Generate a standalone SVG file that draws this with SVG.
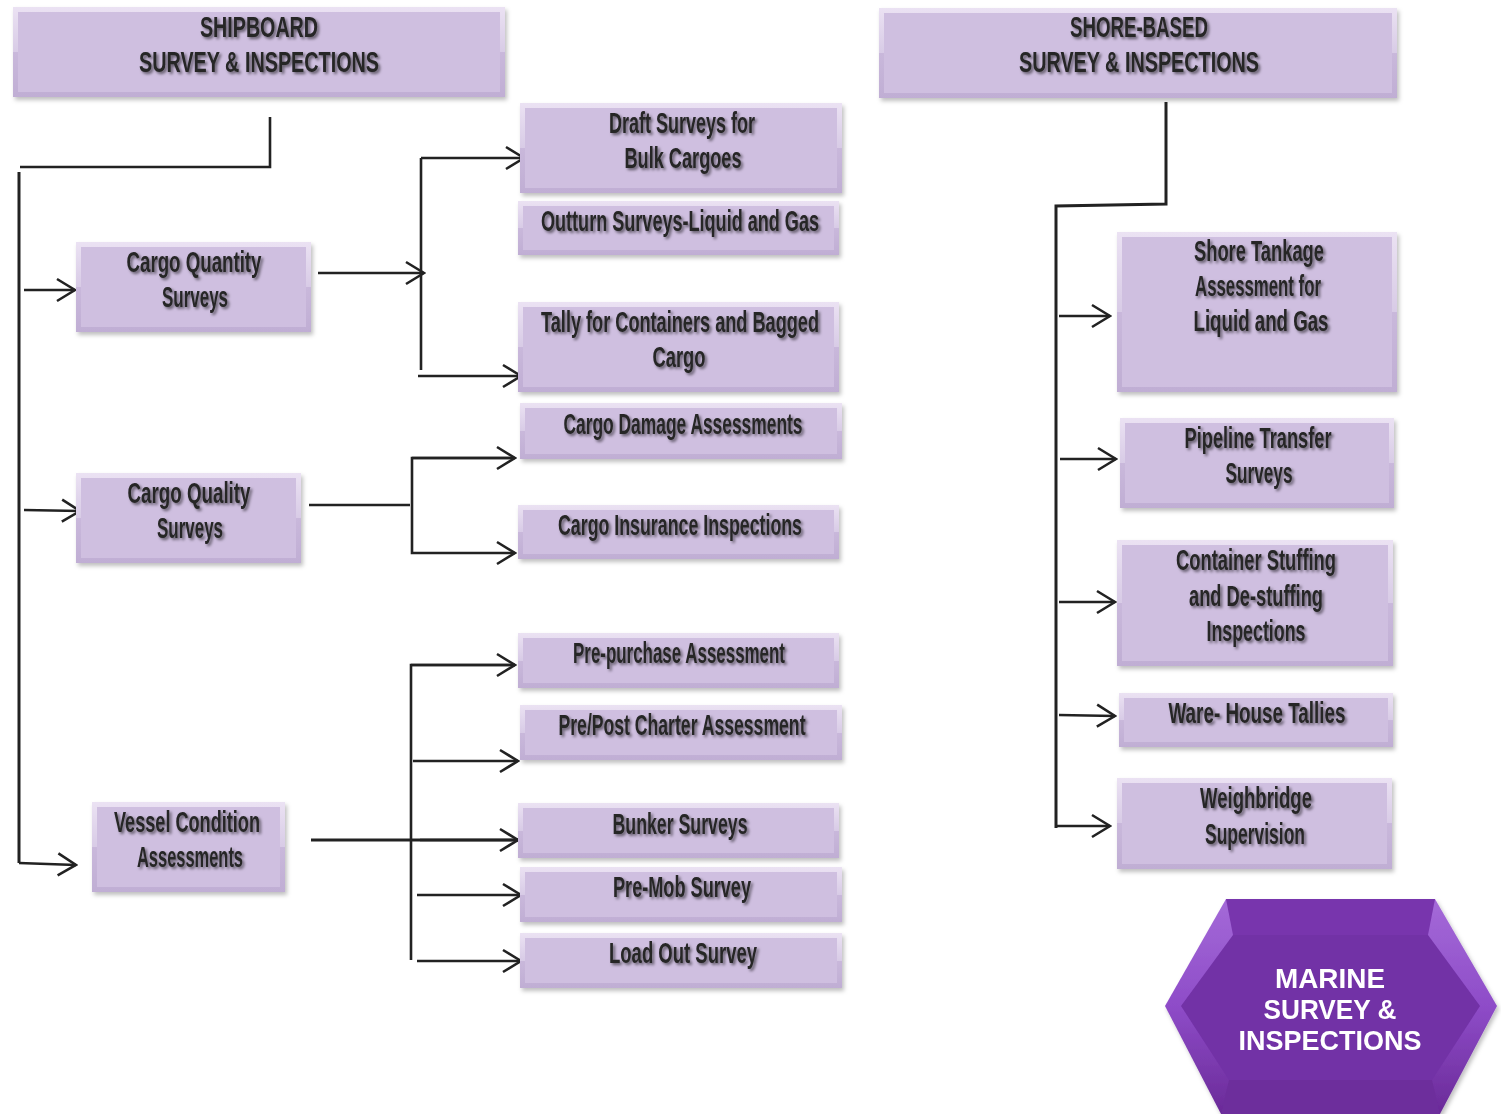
<svg xmlns="http://www.w3.org/2000/svg" width="1501" height="1114" viewBox="0 0 1501 1114">
<style>
.outer{fill:url(#bev)}
.inner{fill:#cfbfe0}
.lbl{font-family:"Liberation Sans Narrow","Liberation Sans",Arial,sans-serif;font-weight:bold;font-size:29px;fill:#262626;text-anchor:middle;filter:url(#tsh)}
.hex{font-family:"Liberation Sans","DejaVu Sans",Arial,sans-serif;font-weight:bold;font-size:28px;fill:#ffffff;text-anchor:middle}
.ln{fill:none;stroke:#222;stroke-width:2.6}
.ar{fill:none;stroke:#222;stroke-width:2.6;marker-end:url(#ah)}
</style>
<defs>
<linearGradient id="bev" x1="0" y1="0" x2="0" y2="1">
<stop offset="0" stop-color="#ebe2f3"/>
<stop offset="0.5" stop-color="#d8cbe6"/>
<stop offset="0.5" stop-color="#c9b8db"/>
<stop offset="1" stop-color="#c0aed4"/>
</linearGradient>
<linearGradient id="hexside" x1="0" y1="0" x2="0" y2="1">
<stop offset="0" stop-color="#a46ad8"/>
<stop offset="0.5" stop-color="#8e4cc8"/>
<stop offset="1" stop-color="#6a2a98"/>
</linearGradient>
<filter id="bsh" x="-5%" y="-10%" width="112%" height="125%">
<feDropShadow dx="2" dy="3" stdDeviation="2" flood-color="#000" flood-opacity="0.25"/>
</filter>
<filter id="tsh" x="-10%" y="-30%" width="120%" height="160%">
<feDropShadow dx="2" dy="2" stdDeviation="1.6" flood-color="#000" flood-opacity="0.55"/>
</filter>
<marker id="ah" markerUnits="userSpaceOnUse" markerWidth="22" markerHeight="26" viewBox="0 0 22 26" refX="20" refY="13" orient="auto">
<path d="M2,2 L20,13 L2,24" fill="none" stroke="#222" stroke-width="2.6"/>
</marker>
</defs>
<rect width="1501" height="1114" fill="#ffffff"/>

<g id="connectors">
<polyline class="ln" points="270,117 270,167 20,167"/>
<line class="ln" x1="19" y1="172" x2="19" y2="863" style="stroke-width:3"/>
<polyline class="ar" points="19,863 76,865"/>
<line class="ar" x1="24" y1="290" x2="75" y2="290"/>
<line class="ar" x1="24" y1="510" x2="80" y2="511"/>
<line class="ar" x1="318" y1="273" x2="424" y2="273"/>
<line class="ln" x1="421" y1="158" x2="421" y2="370"/>
<line class="ar" x1="421" y1="158" x2="524" y2="158"/>
<line class="ar" x1="418" y1="376" x2="521" y2="376"/>
<line class="ln" x1="309" y1="505" x2="410" y2="505"/>
<polyline class="ar" points="514,458 412,458 412,553 515,553"/>
<line class="ar" x1="412" y1="458" x2="515" y2="458"/>
<line class="ln" x1="311" y1="840" x2="556" y2="840" style="stroke-width:3.2"/>
<line class="ar" x1="420" y1="840" x2="518" y2="840"/>
<polyline class="ln" points="515,665 411,665 411,960"/>
<line class="ar" x1="411" y1="665" x2="515" y2="665"/>
<line class="ar" x1="413" y1="761" x2="518" y2="761"/>
<line class="ar" x1="417" y1="895" x2="521" y2="895"/>
<line class="ar" x1="417" y1="961" x2="521" y2="961"/>
<polyline class="ln" points="1166,102 1166,204 1056,206 1056,828" style="stroke-width:3"/>
<line class="ar" x1="1059" y1="316" x2="1110" y2="316"/>
<line class="ar" x1="1060" y1="459" x2="1116" y2="459"/>
<line class="ar" x1="1059" y1="602" x2="1115" y2="602"/>
<line class="ar" x1="1059" y1="715" x2="1115" y2="716"/>
<line class="ar" x1="1056" y1="826" x2="1110" y2="826"/>
</g>

<g id="n-shipboard" filter="url(#bsh)"><rect class="outer" x="13" y="7" width="492" height="90"/><rect class="inner" x="18" y="12" width="482" height="80"/>
<text class="lbl" x="259" y="37" textLength="118" lengthAdjust="spacingAndGlyphs">SHIPBOARD</text>
<text class="lbl" x="259" y="72" textLength="240" lengthAdjust="spacingAndGlyphs">SURVEY &amp; INSPECTIONS</text></g>

<g id="n-shore" filter="url(#bsh)"><rect class="outer" x="879" y="8" width="518" height="90"/><rect class="inner" x="884" y="13" width="508" height="80"/>
<text class="lbl" x="1139" y="37" textLength="138" lengthAdjust="spacingAndGlyphs">SHORE-BASED</text>
<text class="lbl" x="1139" y="72" textLength="240" lengthAdjust="spacingAndGlyphs">SURVEY &amp; INSPECTIONS</text></g>

<g id="n-draft" filter="url(#bsh)"><rect class="outer" x="520" y="103" width="322" height="90"/><rect class="inner" x="525" y="108" width="312" height="80"/>
<text class="lbl" x="682" y="133" textLength="146" lengthAdjust="spacingAndGlyphs">Draft Surveys for</text>
<text class="lbl" x="683" y="168" textLength="117" lengthAdjust="spacingAndGlyphs">Bulk Cargoes</text></g>

<g id="n-outturn" filter="url(#bsh)"><rect class="outer" x="518" y="201" width="321" height="54"/><rect class="inner" x="523" y="206" width="311" height="44"/>
<text class="lbl" x="680" y="231" textLength="278" lengthAdjust="spacingAndGlyphs">Outturn Surveys-Liquid and  Gas</text></g>

<g id="n-cargo-quantity" filter="url(#bsh)"><rect class="outer" x="76" y="242" width="235" height="90"/><rect class="inner" x="81" y="247" width="225" height="80"/>
<text class="lbl" x="194" y="272" textLength="135" lengthAdjust="spacingAndGlyphs">Cargo Quantity</text>
<text class="lbl" x="195" y="307" textLength="66" lengthAdjust="spacingAndGlyphs">Surveys</text></g>

<g id="n-tally" filter="url(#bsh)"><rect class="outer" x="518" y="302" width="321" height="90"/><rect class="inner" x="523" y="307" width="311" height="80"/>
<text class="lbl" x="680" y="332" textLength="278" lengthAdjust="spacingAndGlyphs">Tally for Containers and Bagged</text>
<text class="lbl" x="679" y="367" textLength="53" lengthAdjust="spacingAndGlyphs">Cargo</text></g>

<g id="n-damage" filter="url(#bsh)"><rect class="outer" x="520" y="403" width="322" height="56"/><rect class="inner" x="525" y="408" width="312" height="46"/>
<text class="lbl" x="683" y="434" textLength="239" lengthAdjust="spacingAndGlyphs">Cargo Damage Assessments</text></g>

<g id="n-cargo-quality" filter="url(#bsh)"><rect class="outer" x="76" y="473" width="225" height="90"/><rect class="inner" x="81" y="478" width="215" height="80"/>
<text class="lbl" x="189" y="503" textLength="123" lengthAdjust="spacingAndGlyphs">Cargo Quality</text>
<text class="lbl" x="190" y="538" textLength="66" lengthAdjust="spacingAndGlyphs">Surveys</text></g>

<g id="n-insurance" filter="url(#bsh)"><rect class="outer" x="518" y="505" width="321" height="54"/><rect class="inner" x="523" y="510" width="311" height="44"/>
<text class="lbl" x="680" y="535" textLength="244" lengthAdjust="spacingAndGlyphs">Cargo Insurance Inspections</text></g>

<g id="n-prepurchase" filter="url(#bsh)"><rect class="outer" x="518" y="633" width="321" height="55"/><rect class="inner" x="523" y="638" width="311" height="45"/>
<text class="lbl" x="679" y="663" textLength="212" lengthAdjust="spacingAndGlyphs">Pre-purchase Assessment</text></g>

<g id="n-prepost" filter="url(#bsh)"><rect class="outer" x="520" y="705" width="322" height="55"/><rect class="inner" x="525" y="710" width="312" height="45"/>
<text class="lbl" x="682" y="735" textLength="247" lengthAdjust="spacingAndGlyphs">Pre/Post Charter Assessment</text></g>

<g id="n-vessel" filter="url(#bsh)"><rect class="outer" x="92" y="802" width="193" height="90"/><rect class="inner" x="97" y="807" width="183" height="80"/>
<text class="lbl" x="187" y="832" textLength="146" lengthAdjust="spacingAndGlyphs">Vessel Condition</text>
<text class="lbl" x="190" y="867" textLength="106" lengthAdjust="spacingAndGlyphs">Assessments</text></g>

<g id="n-bunker" filter="url(#bsh)"><rect class="outer" x="518" y="803" width="321" height="55"/><rect class="inner" x="523" y="808" width="311" height="45"/>
<text class="lbl" x="680" y="834" textLength="135" lengthAdjust="spacingAndGlyphs">Bunker Surveys</text></g>

<g id="n-premob" filter="url(#bsh)"><rect class="outer" x="520" y="867" width="322" height="55"/><rect class="inner" x="525" y="872" width="312" height="45"/>
<text class="lbl" x="682" y="897" textLength="138" lengthAdjust="spacingAndGlyphs">Pre-Mob Survey</text></g>

<g id="n-loadout" filter="url(#bsh)"><rect class="outer" x="520" y="933" width="322" height="55"/><rect class="inner" x="525" y="938" width="312" height="45"/>
<text class="lbl" x="683" y="963" textLength="148" lengthAdjust="spacingAndGlyphs">Load Out Survey</text></g>

<g id="n-tankage" filter="url(#bsh)"><rect class="outer" x="1117" y="232" width="280" height="160"/><rect class="inner" x="1122" y="237" width="270" height="150"/>
<text class="lbl" x="1259" y="261" textLength="130" lengthAdjust="spacingAndGlyphs">Shore Tankage</text>
<text class="lbl" x="1258" y="296" textLength="126" lengthAdjust="spacingAndGlyphs">Assessment for</text>
<text class="lbl" x="1261" y="331" textLength="135" lengthAdjust="spacingAndGlyphs">Liquid and Gas</text></g>

<g id="n-pipeline" filter="url(#bsh)"><rect class="outer" x="1120" y="418" width="274" height="90"/><rect class="inner" x="1125" y="423" width="264" height="80"/>
<text class="lbl" x="1258" y="448" textLength="147" lengthAdjust="spacingAndGlyphs">Pipeline Transfer</text>
<text class="lbl" x="1259" y="483" textLength="67" lengthAdjust="spacingAndGlyphs">Surveys</text></g>

<g id="n-container" filter="url(#bsh)"><rect class="outer" x="1117" y="540" width="276" height="126"/><rect class="inner" x="1122" y="545" width="266" height="116"/>
<text class="lbl" x="1256" y="570" textLength="160" lengthAdjust="spacingAndGlyphs">Container Stuffing</text>
<text class="lbl" x="1256" y="606" textLength="134" lengthAdjust="spacingAndGlyphs">and De-stuffing</text>
<text class="lbl" x="1256" y="641" textLength="99" lengthAdjust="spacingAndGlyphs">Inspections</text></g>

<g id="n-warehouse" filter="url(#bsh)"><rect class="outer" x="1119" y="693" width="274" height="54"/><rect class="inner" x="1124" y="698" width="264" height="44"/>
<text class="lbl" x="1257" y="723" textLength="177" lengthAdjust="spacingAndGlyphs">Ware- House Tallies</text></g>

<g id="n-weighbridge" filter="url(#bsh)"><rect class="outer" x="1117" y="778" width="275" height="91"/><rect class="inner" x="1122" y="783" width="265" height="81"/>
<text class="lbl" x="1256" y="808" textLength="112" lengthAdjust="spacingAndGlyphs">Weighbridge</text>
<text class="lbl" x="1255" y="844" textLength="100" lengthAdjust="spacingAndGlyphs">Supervision</text></g>

<g id="n-marine" filter="url(#bsh)">
<polygon points="1226,899 1435,899 1497,1006 1440,1114 1221,1114 1165,1006" fill="url(#hexside)"/>
<polygon points="1233,935 1428,935 1480,1006 1432,1080 1229,1080 1181,1006" fill="#7231a6"/>
<polygon points="1226,899 1435,899 1428,935 1233,935" fill="#7835ad"/>
<polygon points="1229,1080 1432,1080 1440,1114 1221,1114" fill="#6d2e9c"/>
<text class="hex" x="1330" y="988" textLength="110" lengthAdjust="spacingAndGlyphs">MARINE</text>
<text class="hex" x="1330" y="1019" textLength="133" lengthAdjust="spacingAndGlyphs">SURVEY &amp;</text>
<text class="hex" x="1330" y="1050" textLength="183" lengthAdjust="spacingAndGlyphs">INSPECTIONS</text>
</g>
</svg>
